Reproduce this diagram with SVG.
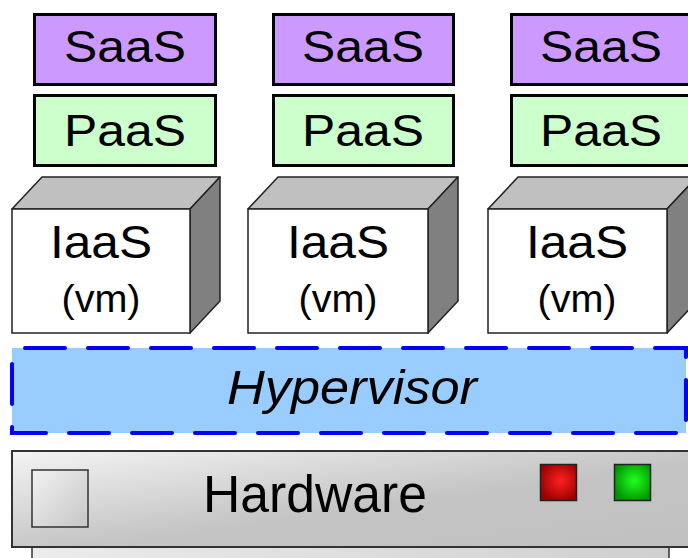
<svg xmlns="http://www.w3.org/2000/svg" width="688" height="558" viewBox="0 0 688 558">
  <style>
    .lbl { font-family: "Liberation Sans", Arial, sans-serif; fill: #000; text-anchor: middle; }
    .saas { fill: #cc99ff; stroke: #000; stroke-width: 3; }
    .paas { fill: #ccffcc; stroke: #000; stroke-width: 3; }
    .front { fill: #ffffff; stroke: #222; stroke-width: 1.5; }
    .top { fill: #c0c0c0; stroke: #222; stroke-width: 1.5; stroke-linejoin: round; }
    .side { fill: #808080; stroke: #222; stroke-width: 1.5; stroke-linejoin: round; }
  </style>
  <defs>
    <linearGradient id="gHw" x1="0" y1="0" x2="1" y2="1">
      <stop offset="0" stop-color="#f4f4f4"/>
      <stop offset="0.55" stop-color="#c4c4c4"/>
      <stop offset="1" stop-color="#c0c0c0"/>
    </linearGradient>
    <linearGradient id="gBtn" x1="0" y1="0" x2="1" y2="1">
      <stop offset="0" stop-color="#f2f2f2"/>
      <stop offset="1" stop-color="#c6c6c6"/>
    </linearGradient>
    <linearGradient id="gBase" x1="0" y1="0" x2="1" y2="0">
      <stop offset="0" stop-color="#ececec"/>
      <stop offset="1" stop-color="#cfcfcf"/>
    </linearGradient>
    <radialGradient id="gRed" cx="0.55" cy="0.45" r="0.6">
      <stop offset="0" stop-color="#ff2020"/>
      <stop offset="1" stop-color="#9a0000"/>
    </radialGradient>
    <radialGradient id="gGreen" cx="0.55" cy="0.45" r="0.6">
      <stop offset="0" stop-color="#20ff20"/>
      <stop offset="1" stop-color="#009400"/>
    </radialGradient>
  </defs>

  <rect width="688" height="558" fill="#ffffff"/>

  <!-- column 1 -->
  <g id="saas1"><rect class="saas" x="34.5" y="14.5" width="181" height="70"/><text class="lbl" x="125" y="62" font-size="45" textLength="122" lengthAdjust="spacingAndGlyphs">SaaS</text></g>
  <g id="paas1"><rect class="paas" x="34.5" y="95.5" width="181" height="70"/><text class="lbl" x="125" y="146" font-size="45" textLength="122" lengthAdjust="spacingAndGlyphs">PaaS</text></g>
  <g id="iaas1">
    <polygon class="top" points="12,209 42,177 220,177 190,209"/>
    <polygon class="side" points="190,209 220,177 220,301 190,333"/>
    <rect class="front" x="12" y="209" width="178" height="124"/>
    <text class="lbl" x="101" y="258" font-size="46" textLength="102" lengthAdjust="spacingAndGlyphs">IaaS</text>
    <text class="lbl" x="101" y="312" font-size="38" textLength="79" lengthAdjust="spacingAndGlyphs">(vm)</text>
  </g>

  <!-- column 2 -->
  <g id="saas2"><rect class="saas" x="273.5" y="14.5" width="180" height="70"/><text class="lbl" x="363" y="62" font-size="45" textLength="122" lengthAdjust="spacingAndGlyphs">SaaS</text></g>
  <g id="paas2"><rect class="paas" x="273.5" y="95.5" width="180" height="70"/><text class="lbl" x="363" y="146" font-size="45" textLength="122" lengthAdjust="spacingAndGlyphs">PaaS</text></g>
  <g id="iaas2">
    <polygon class="top" points="248,209 278,177 458,177 428,209"/>
    <polygon class="side" points="428,209 458,177 458,301 428,333"/>
    <rect class="front" x="248" y="209" width="180" height="124"/>
    <text class="lbl" x="338" y="258" font-size="46" textLength="102" lengthAdjust="spacingAndGlyphs">IaaS</text>
    <text class="lbl" x="338" y="312" font-size="38" textLength="79" lengthAdjust="spacingAndGlyphs">(vm)</text>
  </g>

  <!-- column 3 -->
  <g id="saas3"><rect class="saas" x="511.5" y="14.5" width="180" height="70"/><text class="lbl" x="601" y="62" font-size="45" textLength="122" lengthAdjust="spacingAndGlyphs">SaaS</text></g>
  <g id="paas3"><rect class="paas" x="511.5" y="95.5" width="180" height="70"/><text class="lbl" x="601" y="146" font-size="45" textLength="122" lengthAdjust="spacingAndGlyphs">PaaS</text></g>
  <g id="iaas3">
    <polygon class="top" points="488,209 518,177 697,177 667,209"/>
    <polygon class="side" points="667,209 697,177 697,301 667,333"/>
    <rect class="front" x="488" y="209" width="179" height="124"/>
    <text class="lbl" x="577" y="258" font-size="46" textLength="102" lengthAdjust="spacingAndGlyphs">IaaS</text>
    <text class="lbl" x="577" y="312" font-size="38" textLength="79" lengthAdjust="spacingAndGlyphs">(vm)</text>
  </g>

  <!-- hypervisor layer -->
  <g id="hypervisor">
    <rect x="12" y="348" width="674" height="85" fill="#99ccff" stroke="#0000ff" stroke-width="4" stroke-dasharray="40 23" stroke-dashoffset="50" stroke-linecap="round"/>
    <text class="lbl" x="352" y="404" font-size="49" font-style="italic" textLength="250" lengthAdjust="spacingAndGlyphs">Hypervisor</text>
  </g>

  <!-- hardware chassis -->
  <g id="hardware">
    <rect x="32" y="547" width="637" height="30" fill="url(#gBase)" stroke="#333" stroke-width="1.5"/>
    <rect x="12" y="451" width="690" height="96" fill="url(#gHw)" stroke="#333" stroke-width="2"/>
    <rect x="32" y="470" width="56" height="57" fill="url(#gBtn)" stroke="#333" stroke-width="1.5"/>
    <rect x="540.5" y="464.5" width="36" height="36" fill="url(#gRed)" stroke="#222" stroke-width="1.5"/>
    <rect x="614.5" y="464.5" width="36" height="36" fill="url(#gGreen)" stroke="#222" stroke-width="1.5"/>
    <text class="lbl" x="315" y="512" font-size="51" textLength="224" lengthAdjust="spacingAndGlyphs">Hardware</text>
  </g>
</svg>
